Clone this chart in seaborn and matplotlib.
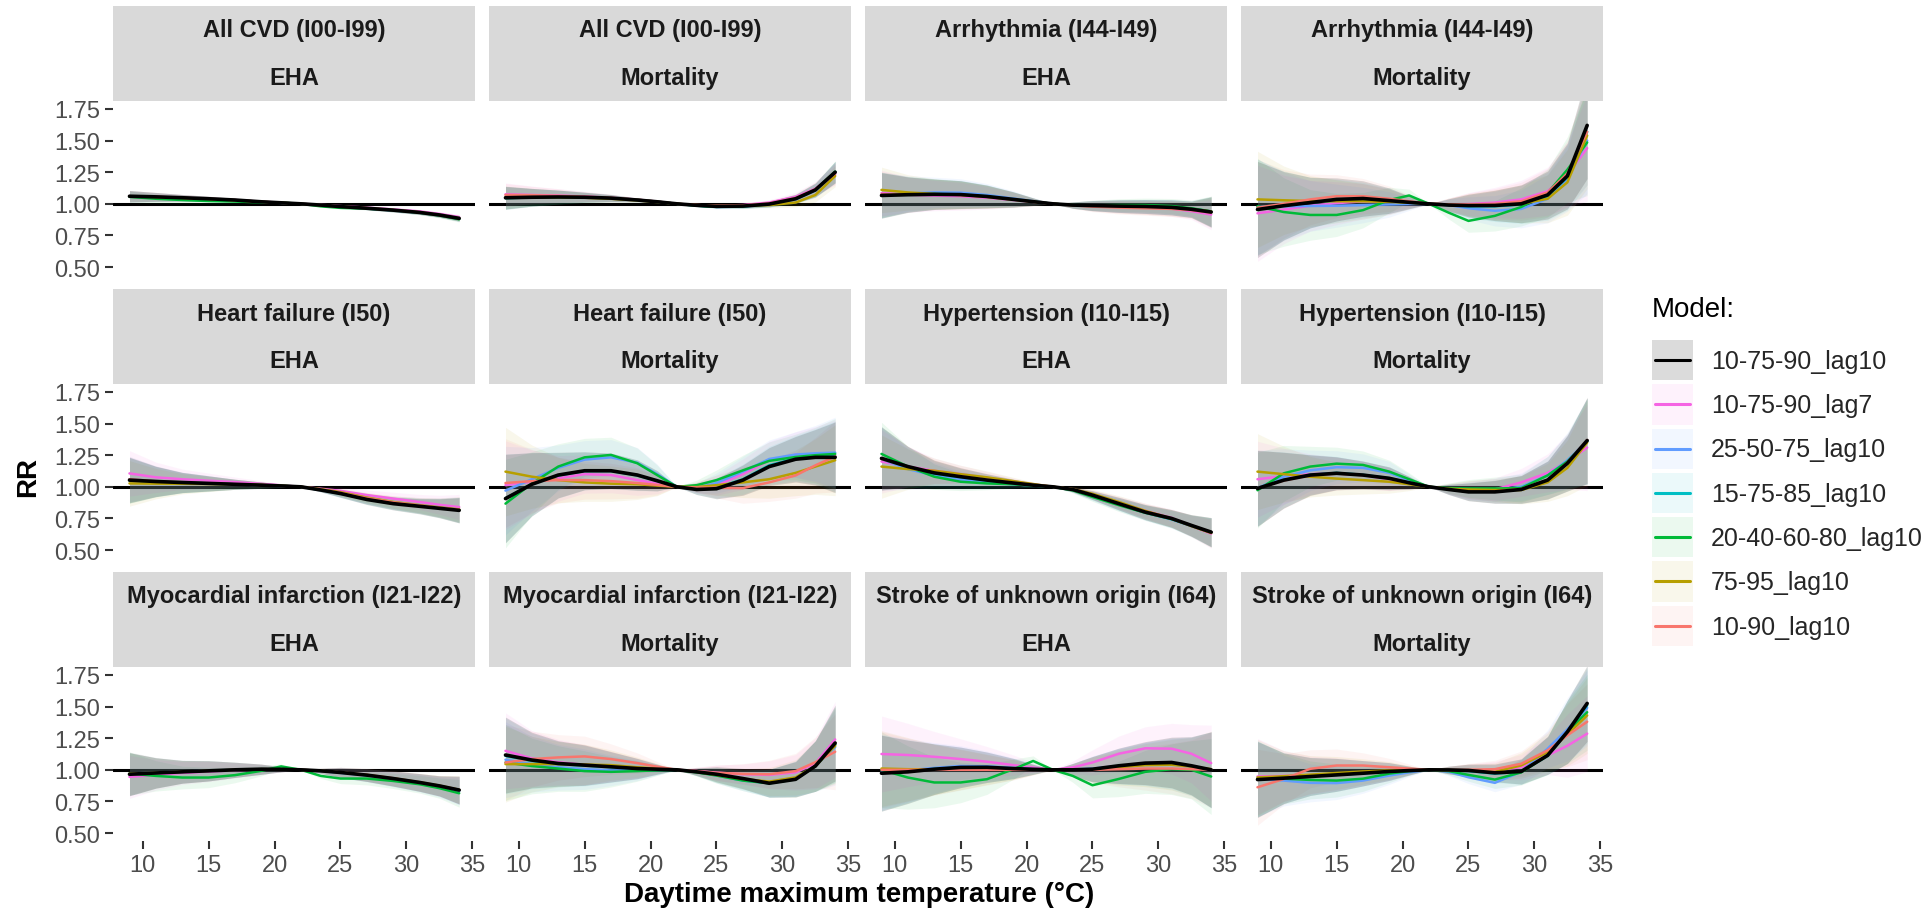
import matplotlib
matplotlib.use('Agg')
import matplotlib.pyplot as plt
import seaborn as sns
import pandas as pd
from matplotlib.patches import Rectangle, Patch
from matplotlib.lines import Line2D

# temperature grid (°C) the curves are read at
temp = [9, 11, 13, 15, 17, 19, 20.5, 22, 23.5, 25, 27, 29, 31, 32.5, 34]

models = ['10-75-90_lag10', '10-75-90_lag7', '25-50-75_lag10', '15-75-85_lag10',
          '20-40-60-80_lag10', '75-95_lag10', '10-90_lag10']
colors = ['#000000', '#F564E3', '#619CFF', '#00BFC4', '#00BA38', '#B79F00', '#F8766D']

outcomes = ['All CVD (I00-I99)', 'Arrhythmia (I44-I49)', 'Heart failure (I50)',
            'Hypertension (I10-I15)', 'Myocardial infarction (I21-I22)',
            'Stroke of unknown origin (I64)']
sources = ['EHA', 'Mortality']

# RR per model (rows in `models` order), and CI half-width per panel
cvd_eha_rr = [
    [1.06, 1.055, 1.048, 1.04, 1.03, 1.016, 1.008, 1.0, 0.99, 0.978, 0.965, 0.95, 0.932, 0.912, 0.885],
    [1.06, 1.055, 1.048, 1.04, 1.03, 1.017, 1.009, 1.0, 0.992, 0.982, 0.97, 0.956, 0.94, 0.92, 0.895],
    [1.058, 1.053, 1.046, 1.038, 1.028, 1.015, 1.007, 1.0, 0.99, 0.977, 0.963, 0.948, 0.93, 0.91, 0.882],
    [1.06, 1.054, 1.047, 1.039, 1.029, 1.016, 1.008, 1.0, 0.99, 0.978, 0.964, 0.949, 0.931, 0.911, 0.884],
    [1.055, 1.04, 1.03, 1.022, 1.018, 1.012, 1.01, 1.0, 0.98, 0.968, 0.962, 0.95, 0.93, 0.908, 0.878],
    [1.06, 1.054, 1.047, 1.039, 1.029, 1.016, 1.008, 1.0, 0.99, 0.979, 0.966, 0.951, 0.933, 0.912, 0.886],
    [1.06, 1.055, 1.047, 1.039, 1.029, 1.016, 1.008, 1.0, 0.99, 0.978, 0.965, 0.95, 0.932, 0.912, 0.885],
]
cvd_eha_ci = [0.045, 0.035, 0.026, 0.02, 0.014, 0.008, 0.004, 0.0, 0.004, 0.008, 0.011, 0.014, 0.016, 0.018, 0.022]

cvd_mort_rr = [
    [1.048, 1.052, 1.054, 1.052, 1.045, 1.03, 1.016, 1.0, 0.988, 0.98, 0.982, 0.998, 1.04, 1.11, 1.25],
    [1.075, 1.07, 1.065, 1.058, 1.048, 1.033, 1.018, 1.0, 0.99, 0.985, 0.99, 1.01, 1.055, 1.12, 1.235],
    [1.045, 1.05, 1.052, 1.05, 1.043, 1.03, 1.015, 1.0, 0.985, 0.975, 0.978, 0.995, 1.035, 1.105, 1.25],
    [1.05, 1.052, 1.053, 1.051, 1.044, 1.03, 1.016, 1.0, 0.987, 0.978, 0.98, 0.996, 1.038, 1.108, 1.25],
    [1.045, 1.05, 1.053, 1.052, 1.046, 1.032, 1.017, 1.0, 0.985, 0.976, 0.98, 0.997, 1.04, 1.11, 1.255],
    [1.05, 1.052, 1.052, 1.048, 1.04, 1.027, 1.014, 1.0, 0.99, 0.984, 0.985, 0.99, 1.01, 1.07, 1.22],
    [1.07, 1.068, 1.063, 1.056, 1.047, 1.032, 1.017, 1.0, 0.99, 0.984, 0.987, 1.003, 1.045, 1.115, 1.24],
]
cvd_mort_ci = [0.09, 0.07, 0.055, 0.04, 0.028, 0.015, 0.007, 0.0, 0.006, 0.012, 0.016, 0.022, 0.035, 0.055, 0.085]

arr_eha_rr = [
    [1.066, 1.072, 1.075, 1.073, 1.058, 1.035, 1.017, 1.0, 0.99, 0.986, 0.982, 0.979, 0.972, 0.957, 0.935],
    [1.085, 1.072, 1.065, 1.06, 1.048, 1.03, 1.015, 1.0, 0.99, 0.984, 0.978, 0.972, 0.962, 0.942, 0.915],
    [1.07, 1.082, 1.09, 1.088, 1.07, 1.042, 1.02, 1.0, 0.99, 0.985, 0.982, 0.98, 0.974, 0.96, 0.94],
    [1.068, 1.075, 1.078, 1.075, 1.06, 1.036, 1.018, 1.0, 0.99, 0.986, 0.982, 0.979, 0.972, 0.957, 0.935],
    [1.07, 1.075, 1.077, 1.072, 1.056, 1.033, 1.016, 1.0, 0.99, 0.988, 0.99, 0.99, 0.982, 0.965, 0.94],
    [1.11, 1.09, 1.078, 1.07, 1.055, 1.034, 1.017, 1.0, 0.99, 0.984, 0.978, 0.972, 0.965, 0.955, 0.94],
    [1.075, 1.075, 1.075, 1.07, 1.055, 1.033, 1.016, 1.0, 0.988, 0.978, 0.97, 0.965, 0.96, 0.95, 0.93],
]
arr_eha_ci = [0.18, 0.14, 0.12, 0.11, 0.09, 0.06, 0.03, 0.0, 0.025, 0.04, 0.05, 0.055, 0.06, 0.065, 0.12]

arr_mort_rr = [
    [0.955, 0.985, 1.01, 1.035, 1.042, 1.025, 1.012, 1.0, 0.99, 0.986, 0.987, 1.0, 1.07, 1.22, 1.62],
    [0.925, 0.955, 0.985, 1.005, 1.02, 1.018, 1.01, 1.0, 0.995, 0.998, 1.01, 1.035, 1.1, 1.23, 1.44],
    [0.975, 0.98, 0.983, 0.985, 0.99, 0.995, 0.998, 1.0, 0.99, 0.965, 0.945, 0.96, 1.04, 1.2, 1.5],
    [0.97, 0.99, 1.01, 1.025, 1.03, 1.02, 1.01, 1.0, 0.99, 0.98, 0.98, 0.995, 1.06, 1.21, 1.57],
    [0.98, 0.935, 0.912, 0.912, 0.95, 1.03, 1.066, 1.0, 0.93, 0.865, 0.905, 0.975, 1.085, 1.27, 1.485],
    [1.035, 1.028, 1.022, 1.02, 1.02, 1.015, 1.008, 1.0, 0.995, 0.99, 0.99, 1.0, 1.04, 1.17, 1.54],
    [0.97, 1.0, 1.035, 1.06, 1.06, 1.04, 1.02, 1.0, 0.995, 0.995, 1.0, 1.02, 1.09, 1.24, 1.57],
]
arr_mort_ci = [0.38, 0.27, 0.2, 0.17, 0.14, 0.1, 0.05, 0.0, 0.05, 0.09, 0.12, 0.15, 0.19, 0.26, 0.42]

hf_eha_rr = [
    [1.053, 1.042, 1.034, 1.027, 1.02, 1.013, 1.007, 1.0, 0.975, 0.947, 0.9, 0.867, 0.846, 0.83, 0.814],
    [1.106, 1.075, 1.06, 1.048, 1.037, 1.023, 1.012, 1.0, 0.985, 0.968, 0.935, 0.907, 0.88, 0.858, 0.84],
    [1.06, 1.045, 1.035, 1.028, 1.02, 1.012, 1.006, 1.0, 0.975, 0.945, 0.905, 0.875, 0.855, 0.838, 0.82],
    [1.055, 1.043, 1.034, 1.027, 1.02, 1.013, 1.007, 1.0, 0.975, 0.947, 0.902, 0.87, 0.848, 0.832, 0.816],
    [1.05, 1.04, 1.032, 1.025, 1.02, 1.014, 1.01, 1.0, 0.978, 0.95, 0.905, 0.872, 0.85, 0.833, 0.817],
    [1.027, 1.025, 1.024, 1.022, 1.02, 1.015, 1.008, 1.0, 0.982, 0.958, 0.915, 0.88, 0.855, 0.838, 0.822],
    [1.06, 1.045, 1.036, 1.028, 1.02, 1.013, 1.007, 1.0, 0.978, 0.952, 0.91, 0.878, 0.853, 0.835, 0.818],
]
hf_eha_ci = [0.18, 0.12, 0.08, 0.06, 0.04, 0.025, 0.012, 0.0, 0.015, 0.03, 0.04, 0.05, 0.06, 0.075, 0.1]

hf_mort_rr = [
    [0.907, 1.02, 1.093, 1.127, 1.127, 1.093, 1.048, 1.0, 0.979, 0.985, 1.053, 1.16, 1.218, 1.233, 1.233],
    [1.013, 1.04, 1.067, 1.1, 1.093, 1.053, 1.025, 1.0, 0.995, 1.013, 1.1, 1.21, 1.255, 1.255, 1.25],
    [0.97, 1.06, 1.15, 1.215, 1.233, 1.19, 1.1, 1.0, 0.99, 1.03, 1.12, 1.22, 1.255, 1.265, 1.27],
    [0.91, 1.02, 1.09, 1.125, 1.125, 1.09, 1.047, 1.0, 0.98, 0.99, 1.06, 1.17, 1.225, 1.24, 1.24],
    [0.867, 1.027, 1.16, 1.233, 1.252, 1.186, 1.093, 1.0, 1.013, 1.053, 1.13, 1.205, 1.236, 1.25, 1.26],
    [1.12, 1.08, 1.053, 1.035, 1.025, 1.02, 1.01, 1.0, 0.998, 1.013, 1.035, 1.06, 1.11, 1.16, 1.21],
    [1.03, 1.045, 1.053, 1.053, 1.045, 1.03, 1.015, 1.0, 0.995, 0.992, 0.99, 1.035, 1.09, 1.17, 1.24],
]
hf_mort_ci = [0.35, 0.25, 0.18, 0.15, 0.14, 0.12, 0.08, 0.0, 0.04, 0.08, 0.12, 0.15, 0.18, 0.22, 0.28]

ht_eha_rr = [
    [1.225, 1.16, 1.11, 1.08, 1.053, 1.03, 1.013, 1.0, 0.979, 0.934, 0.867, 0.8, 0.75, 0.695, 0.642],
    [1.2, 1.16, 1.127, 1.1, 1.07, 1.04, 1.02, 1.0, 0.98, 0.94, 0.875, 0.81, 0.755, 0.69, 0.63],
    [1.22, 1.14, 1.09, 1.055, 1.035, 1.02, 1.01, 1.0, 0.975, 0.925, 0.86, 0.795, 0.742, 0.69, 0.64],
    [1.225, 1.155, 1.105, 1.075, 1.05, 1.028, 1.012, 1.0, 0.978, 0.932, 0.865, 0.8, 0.748, 0.693, 0.64],
    [1.26, 1.16, 1.08, 1.04, 1.027, 1.02, 1.01, 1.0, 0.972, 0.92, 0.855, 0.795, 0.745, 0.693, 0.64],
    [1.16, 1.14, 1.127, 1.1, 1.075, 1.045, 1.022, 1.0, 0.982, 0.945, 0.88, 0.81, 0.75, 0.69, 0.635],
    [1.22, 1.16, 1.113, 1.082, 1.055, 1.032, 1.014, 1.0, 0.98, 0.936, 0.868, 0.8, 0.75, 0.695, 0.642],
]
ht_eha_ci = [0.25, 0.16, 0.1, 0.07, 0.05, 0.03, 0.015, 0.0, 0.02, 0.035, 0.05, 0.06, 0.07, 0.085, 0.115]

ht_mort_rr = [
    [0.987, 1.053, 1.093, 1.107, 1.093, 1.067, 1.032, 1.0, 0.979, 0.96, 0.96, 0.979, 1.053, 1.186, 1.366],
    [1.06, 1.085, 1.1, 1.107, 1.093, 1.06, 1.03, 1.0, 0.985, 0.975, 0.98, 1.035, 1.11, 1.2, 1.31],
    [0.99, 1.08, 1.13, 1.155, 1.15, 1.11, 1.05, 1.0, 0.98, 0.97, 0.975, 1.0, 1.09, 1.21, 1.36],
    [0.99, 1.055, 1.095, 1.11, 1.095, 1.068, 1.033, 1.0, 0.98, 0.962, 0.962, 0.98, 1.055, 1.188, 1.365],
    [0.973, 1.107, 1.16, 1.183, 1.173, 1.12, 1.06, 1.0, 0.99, 0.987, 0.987, 0.99, 1.09, 1.2, 1.36],
    [1.12, 1.1, 1.08, 1.065, 1.053, 1.04, 1.02, 1.0, 0.985, 0.979, 0.975, 0.975, 1.035, 1.15, 1.35],
    [0.99, 1.05, 1.09, 1.105, 1.092, 1.065, 1.032, 1.0, 0.98, 0.962, 0.962, 0.982, 1.056, 1.19, 1.37],
]
ht_mort_ci = [0.3, 0.22, 0.16, 0.13, 0.11, 0.09, 0.05, 0.0, 0.04, 0.07, 0.09, 0.11, 0.15, 0.22, 0.34]

mi_eha_rr = [
    [0.965, 0.975, 0.984, 0.992, 1.0, 1.005, 1.004, 1.0, 0.992, 0.979, 0.958, 0.931, 0.9, 0.873, 0.84],
    [0.944, 0.96, 0.975, 0.986, 0.996, 1.003, 1.004, 1.0, 0.992, 0.98, 0.96, 0.933, 0.9, 0.872, 0.838],
    [0.97, 0.978, 0.986, 0.993, 1.0, 1.004, 1.003, 1.0, 0.99, 0.976, 0.955, 0.925, 0.895, 0.865, 0.832],
    [0.965, 0.975, 0.984, 0.992, 1.0, 1.005, 1.004, 1.0, 0.992, 0.979, 0.958, 0.93, 0.9, 0.872, 0.838],
    [0.97, 0.952, 0.939, 0.939, 0.958, 0.992, 1.027, 1.0, 0.952, 0.931, 0.931, 0.912, 0.886, 0.855, 0.815],
    [0.97, 0.977, 0.985, 0.992, 1.0, 1.005, 1.004, 1.0, 0.992, 0.98, 0.96, 0.933, 0.902, 0.875, 0.842],
    [0.965, 0.975, 0.984, 0.992, 1.0, 1.005, 1.004, 1.0, 0.992, 0.979, 0.958, 0.931, 0.9, 0.873, 0.84],
]
mi_eha_ci = [0.17, 0.12, 0.09, 0.08, 0.06, 0.04, 0.02, 0.0, 0.02, 0.04, 0.05, 0.06, 0.07, 0.08, 0.11]

mi_mort_rr = [
    [1.117, 1.077, 1.05, 1.037, 1.024, 1.01, 1.005, 1.0, 0.984, 0.965, 0.931, 0.894, 0.925, 1.03, 1.212],
    [1.15, 1.09, 1.06, 1.04, 1.025, 1.012, 1.006, 1.0, 0.99, 0.978, 0.965, 0.96, 0.98, 1.05, 1.24],
    [1.08, 1.045, 1.02, 1.005, 0.995, 0.995, 0.998, 1.0, 0.985, 0.955, 0.915, 0.894, 0.93, 1.03, 1.18],
    [1.11, 1.07, 1.045, 1.033, 1.02, 1.008, 1.004, 1.0, 0.984, 0.96, 0.925, 0.894, 0.93, 1.03, 1.2],
    [1.058, 1.03, 1.01, 0.99, 0.984, 0.99, 0.996, 1.0, 0.98, 0.955, 0.915, 0.894, 0.925, 1.03, 1.2],
    [1.045, 1.045, 1.045, 1.042, 1.037, 1.02, 1.01, 1.0, 0.985, 0.96, 0.928, 0.907, 0.94, 1.03, 1.19],
    [1.058, 1.085, 1.098, 1.106, 1.085, 1.053, 1.025, 1.0, 0.99, 0.976, 0.968, 0.965, 0.99, 1.06, 1.143],
]
mi_mort_ci = [0.3, 0.22, 0.18, 0.16, 0.12, 0.08, 0.04, 0.0, 0.03, 0.06, 0.08, 0.11, 0.14, 0.2, 0.3]

st_eha_rr = [
    [0.973, 0.984, 1.005, 1.019, 1.02, 1.01, 1.004, 1.0, 1.0, 1.005, 1.032, 1.053, 1.058, 1.032, 1.0],
    [1.125, 1.117, 1.103, 1.085, 1.064, 1.037, 1.018, 1.0, 1.019, 1.058, 1.127, 1.17, 1.167, 1.127, 1.053],
    [0.98, 0.995, 1.015, 1.03, 1.028, 1.015, 1.006, 1.0, 1.002, 1.01, 1.03, 1.045, 1.045, 1.025, 1.0],
    [0.975, 0.988, 1.007, 1.02, 1.02, 1.01, 1.004, 1.0, 1.0, 1.005, 1.028, 1.048, 1.052, 1.03, 1.0],
    [1.0, 0.939, 0.9, 0.9, 0.926, 1.005, 1.07, 1.0, 0.952, 0.878, 0.928, 0.984, 1.005, 1.0, 0.947],
    [1.01, 1.005, 1.003, 1.003, 1.003, 1.002, 1.001, 1.0, 1.0, 1.005, 1.02, 1.037, 1.04, 1.025, 1.005],
    [1.0, 1.0, 1.0, 1.0, 1.0, 1.0, 1.0, 1.0, 1.0, 1.0, 1.005, 1.01, 1.01, 1.005, 1.0],
]
st_eha_ci = [0.3, 0.25, 0.2, 0.16, 0.12, 0.08, 0.04, 0.0, 0.05, 0.1, 0.14, 0.17, 0.2, 0.23, 0.3]

st_mort_rr = [
    [0.923, 0.934, 0.947, 0.96, 0.973, 0.987, 0.994, 1.0, 0.999, 0.995, 0.976, 0.987, 1.114, 1.3, 1.525],
    [0.947, 0.952, 0.958, 0.965, 0.975, 0.985, 0.993, 1.0, 0.998, 0.995, 0.995, 1.021, 1.114, 1.19, 1.286],
    [0.93, 0.915, 0.897, 0.895, 0.915, 0.955, 0.98, 1.0, 0.985, 0.941, 0.897, 0.985, 1.167, 1.32, 1.49],
    [0.925, 0.935, 0.948, 0.96, 0.972, 0.986, 0.994, 1.0, 0.998, 0.99, 0.97, 0.985, 1.11, 1.3, 1.51],
    [0.93, 0.93, 0.92, 0.915, 0.93, 0.97, 0.99, 1.0, 0.99, 0.96, 0.923, 0.98, 1.114, 1.3, 1.455],
    [0.94, 0.95, 0.962, 0.975, 0.987, 0.995, 0.998, 1.0, 0.998, 0.995, 0.985, 1.035, 1.14, 1.28, 1.43],
    [0.862, 0.928, 1.008, 1.034, 1.034, 1.02, 1.01, 1.0, 0.998, 1.0, 1.005, 1.048, 1.154, 1.273, 1.38],
]
st_mort_ci = [0.3, 0.2, 0.15, 0.13, 0.1, 0.07, 0.035, 0.0, 0.03, 0.05, 0.07, 0.1, 0.15, 0.25, 0.3]

panels = [
    (outcomes[0], sources[0], cvd_eha_rr, cvd_eha_ci),
    (outcomes[0], sources[1], cvd_mort_rr, cvd_mort_ci),
    (outcomes[1], sources[0], arr_eha_rr, arr_eha_ci),
    (outcomes[1], sources[1], arr_mort_rr, arr_mort_ci),
    (outcomes[2], sources[0], hf_eha_rr, hf_eha_ci),
    (outcomes[2], sources[1], hf_mort_rr, hf_mort_ci),
    (outcomes[3], sources[0], ht_eha_rr, ht_eha_ci),
    (outcomes[3], sources[1], ht_mort_rr, ht_mort_ci),
    (outcomes[4], sources[0], mi_eha_rr, mi_eha_ci),
    (outcomes[4], sources[1], mi_mort_rr, mi_mort_ci),
    (outcomes[5], sources[0], st_eha_rr, st_eha_ci),
    (outcomes[5], sources[1], st_mort_rr, st_mort_ci),
]

sns.set_theme(style='white')
plt.rcParams['font.family'] = ['Liberation Sans', 'DejaVu Sans']

W, H = 1931, 912
fig = plt.figure(figsize=(W / 100, H / 100), dpi=100)
palette = dict(zip(models, colors))
band_alpha = [0.14] + [0.08] * 6


def fx(px):
    return px / W


def fy(py):
    return 1 - py / H


class KeyHandler:
    # legend key: tinted ribbon box with the line across its middle
    def __init__(self, color, alpha):
        self.color = color
        self.alpha = alpha

    def legend_artist(self, legend, orig_handle, fontsize, handlebox):
        x0, y0 = -handlebox.xdescent, -handlebox.ydescent
        w, h = handlebox.width, handlebox.height
        box = Rectangle((x0, y0), w, h, facecolor=self.color, alpha=self.alpha,
                        edgecolor='none', transform=handlebox.get_transform())
        line = Line2D([x0 + 2, x0 + w - 2], [y0 + h / 2] * 2, color=self.color, lw=2.2,
                      transform=handlebox.get_transform())
        handlebox.add_artist(box)
        handlebox.add_artist(line)
        return box


for k, (outcome, source, rr, ci) in enumerate(panels):
    r, c = divmod(k, 4)
    left = 113 + 376 * c
    top = 102 + 283 * r
    ax = fig.add_axes([fx(left), fy(top + 174), 362 / W, 174 / H])

    # two-layer strip
    s_top = 7 + 283 * r
    for lab, y0 in [(outcome, s_top), (source, s_top + 47.5)]:
        fig.patches.append(Rectangle((fx(left), fy(y0 + 47.5)), 362 / W, 47.5 / H,
                                     transform=fig.transFigure, facecolor='#D9D9D9',
                                     edgecolor='none', zorder=0))
        fig.text(fx(left + 181), fy(y0 + 24), lab, ha='center', va='center',
                 fontsize=17, weight='bold', color='#1A1A1A')

    df = pd.DataFrame([(m, t, v) for m, row in zip(models, rr) for t, v in zip(temp, row)],
                      columns=['model', 'temp', 'rr'])

    ax.axhline(1, color='black', lw=2.2, zorder=1)
    for m, col, a in zip(models[::-1], colors[::-1], band_alpha[::-1]):
        sub = df[df.model == m]
        ax.fill_between(sub.temp, sub.rr - ci, sub.rr + ci, color=col, alpha=a,
                        lw=0, zorder=2)
    sns.lineplot(data=df[df.model != models[0]], x='temp', y='rr', hue='model',
                 hue_order=models[1:], palette=palette, estimator=None, sort=False,
                 legend=False, lw=1.8, ax=ax, zorder=3)
    sns.lineplot(data=df[df.model == models[0]], x='temp', y='rr', color='black',
                 estimator=None, sort=False, legend=False, lw=2.6, ax=ax, zorder=4)

    ax.set_xlim(7.75, 35.2)
    ax.set_ylim(0.4375, 1.8125)
    ax.set_xticks([10, 15, 20, 25, 30, 35])
    ax.set_yticks([0.5, 0.75, 1.0, 1.25, 1.5, 1.75])
    ax.set_xlabel('')
    ax.set_ylabel('')
    for sp in ax.spines.values():
        sp.set_visible(False)
    ax.tick_params(axis='both', which='both', length=5.5, width=1.5, color='#333333',
                   labelsize=17, labelcolor='#4D4D4D', pad=4)
    ax.tick_params(axis='x', bottom=(r == 2), labelbottom=(r == 2))
    ax.tick_params(axis='y', left=(c == 0), labelleft=(c == 0))
    if c == 0:
        ax.set_yticklabels(['0.50', '0.75', '1.00', '1.25', '1.50', '1.75'])

fig.text(fx(859), fy(895), 'Daytime maximum temperature (°C)', ha='center', va='center',
         fontsize=20, weight='bold', color='black')
fig.text(fx(28), fy(477), 'RR', ha='center', va='center', rotation=90,
         fontsize=20, weight='bold', color='black')

# legend
fig.text(fx(1652), fy(310), 'Model:', ha='left', va='center', fontsize=20, color='black')
handles = [Patch(facecolor=col) for col in colors]
fig.legend(handles, models, loc='upper left', bbox_to_anchor=(fx(1652), fy(341)),
           handler_map={h: KeyHandler(col, a) for h, col, a in zip(handles, colors, band_alpha)},
           frameon=False, fontsize=18, handlelength=1.64, handleheight=2.1,
           labelspacing=0.16, handletextpad=0.72, borderpad=0, borderaxespad=0)

fig.savefig('out.png', dpi=100)
